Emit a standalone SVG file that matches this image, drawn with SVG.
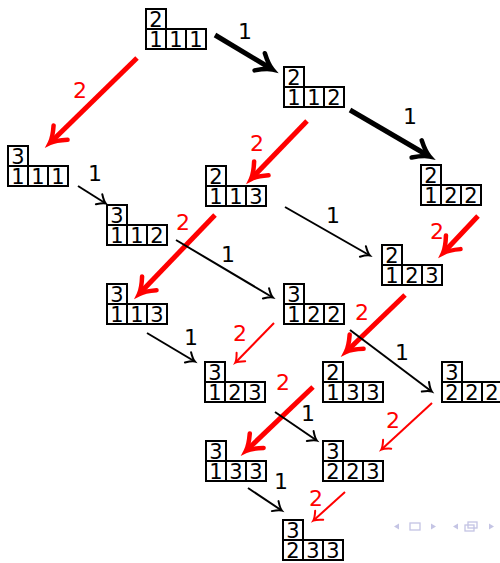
<svg xmlns="http://www.w3.org/2000/svg" width="500" height="563" viewBox="0 0 500 563">
<style>
.c{fill:#fff;stroke:#000;stroke-width:2}
.d{font-family:"DejaVu Sans",sans-serif;font-size:21px;text-anchor:middle;fill:#000}
.l{font-family:"DejaVu Sans",sans-serif;font-size:22px;text-anchor:middle}
.lb{fill:#000}
.lr{fill:#f00}
.tb{stroke:#000;stroke-width:5;fill:none}
.tr{stroke:#f00;stroke-width:5;fill:none}
.nb{stroke:#000;stroke-width:2;fill:none}
.nr{stroke:#f00;stroke-width:2;fill:none}
.nav{fill:#c4c4e4;stroke:none}
.navs{fill:none;stroke:#c4c4e4;stroke-width:1.3}
</style>
<defs>
<marker id="hb" markerUnits="userSpaceOnUse" markerWidth="30" markerHeight="30" refX="0" refY="0" viewBox="-20 -15 30 30" orient="auto" overflow="visible">
<path d="M-12,-10 Q-3,-2 3,0 Q-3,2 -12,10" fill="none" stroke="#000" stroke-width="4.5" stroke-linecap="round"/>
</marker>
<marker id="hr" markerUnits="userSpaceOnUse" markerWidth="30" markerHeight="30" refX="0" refY="0" viewBox="-20 -15 30 30" orient="auto" overflow="visible">
<path d="M-12,-10 Q-3,-2 3,0 Q-3,2 -12,10" fill="none" stroke="#f00" stroke-width="4.5" stroke-linecap="round"/>
</marker>
<marker id="sb" markerUnits="userSpaceOnUse" markerWidth="20" markerHeight="20" refX="0" refY="0" viewBox="-10 -10 20 20" orient="auto" overflow="visible">
<path d="M-7,-6 Q-2,-1 1,0 Q-2,1 -7,6" fill="none" stroke="#000" stroke-width="2" stroke-linecap="round"/>
</marker>
<marker id="sr" markerUnits="userSpaceOnUse" markerWidth="20" markerHeight="20" refX="0" refY="0" viewBox="-10 -10 20 20" orient="auto" overflow="visible">
<path d="M-7,-6 Q-2,-1 1,0 Q-2,1 -7,6" fill="none" stroke="#f00" stroke-width="2" stroke-linecap="round"/>
</marker>
</defs>

<g id="connectors">
<line class="tb" x1="215" y1="35" x2="270" y2="68" marker-end="url(#hb)"/>
<line class="tb" x1="350" y1="110" x2="427" y2="155" marker-end="url(#hb)"/>
<line class="tr" x1="137" y1="58" x2="52" y2="141" marker-end="url(#hr)"/>
<line class="tr" x1="307" y1="121" x2="253" y2="177" marker-end="url(#hr)"/>
<line class="tr" x1="215" y1="215" x2="141" y2="292" marker-end="url(#hr)"/>
<line class="tr" x1="478" y1="216" x2="445" y2="251" marker-end="url(#hr)"/>
<line class="tr" x1="405" y1="295" x2="348" y2="350" marker-end="url(#hr)"/>
<line class="tr" x1="313" y1="387" x2="248" y2="449" marker-end="url(#hr)"/>
<line class="nb" x1="78" y1="186" x2="105" y2="203" marker-end="url(#sb)"/>
<line class="nb" x1="285" y1="207" x2="369" y2="255" marker-end="url(#sb)"/>
<line class="nb" x1="176" y1="240" x2="272" y2="297" marker-end="url(#sb)"/>
<line class="nb" x1="147" y1="333" x2="194" y2="361" marker-end="url(#sb)"/>
<line class="nb" x1="350" y1="330" x2="431" y2="391" marker-end="url(#sb)"/>
<line class="nb" x1="275" y1="412" x2="316" y2="440" marker-end="url(#sb)"/>
<line class="nb" x1="248" y1="488" x2="281" y2="510" marker-end="url(#sb)"/>
<line class="nr" x1="274" y1="323" x2="236" y2="362" marker-end="url(#sr)"/>
<line class="nr" x1="432" y1="403" x2="382" y2="449" marker-end="url(#sr)"/>
<line class="nr" x1="345" y1="492" x2="314" y2="520" marker-end="url(#sr)"/>
<text class="l lb" x="245" y="39">1</text>
<text class="l lb" x="410" y="124">1</text>
<text class="l lb" x="95" y="181">1</text>
<text class="l lb" x="333" y="223">1</text>
<text class="l lb" x="228" y="262">1</text>
<text class="l lb" x="191" y="345">1</text>
<text class="l lb" x="402" y="360">1</text>
<text class="l lb" x="308" y="421">1</text>
<text class="l lb" x="281" y="489">1</text>
<text class="l lr" x="80" y="98">2</text>
<text class="l lr" x="257" y="151">2</text>
<text class="l lr" x="183" y="230">2</text>
<text class="l lr" x="437" y="239">2</text>
<text class="l lr" x="362" y="320">2</text>
<text class="l lr" x="283" y="390">2</text>
<text class="l lr" x="240" y="341">2</text>
<text class="l lr" x="393" y="428">2</text>
<text class="l lr" x="316" y="506">2</text>
</g>

<g id="n1" transform="translate(146,9)"><rect class="c" x="0" y="0" width="20" height="20"/><rect class="c" x="0" y="20" width="20" height="20"/><rect class="c" x="20" y="20" width="20" height="20"/><rect class="c" x="40" y="20" width="20" height="20"/><text class="d" x="10" y="18">2</text><text class="d" x="10" y="38">1</text><text class="d" x="30" y="38">1</text><text class="d" x="50" y="38">1</text></g>
<g id="n2" transform="translate(284,67)"><rect class="c" x="0" y="0" width="20" height="20"/><rect class="c" x="0" y="20" width="20" height="20"/><rect class="c" x="20" y="20" width="20" height="20"/><rect class="c" x="40" y="20" width="20" height="20"/><text class="d" x="10" y="18">2</text><text class="d" x="10" y="38">1</text><text class="d" x="30" y="38">1</text><text class="d" x="50" y="38">2</text></g>
<g id="n3" transform="translate(8,146)"><rect class="c" x="0" y="0" width="20" height="20"/><rect class="c" x="0" y="20" width="20" height="20"/><rect class="c" x="20" y="20" width="20" height="20"/><rect class="c" x="40" y="20" width="20" height="20"/><text class="d" x="10" y="18">3</text><text class="d" x="10" y="38">1</text><text class="d" x="30" y="38">1</text><text class="d" x="50" y="38">1</text></g>
<g id="n4" transform="translate(107,205)"><rect class="c" x="0" y="0" width="20" height="20"/><rect class="c" x="0" y="20" width="20" height="20"/><rect class="c" x="20" y="20" width="20" height="20"/><rect class="c" x="40" y="20" width="20" height="20"/><text class="d" x="10" y="18">3</text><text class="d" x="10" y="38">1</text><text class="d" x="30" y="38">1</text><text class="d" x="50" y="38">2</text></g>
<g id="n5" transform="translate(206,166)"><rect class="c" x="0" y="0" width="20" height="20"/><rect class="c" x="0" y="20" width="20" height="20"/><rect class="c" x="20" y="20" width="20" height="20"/><rect class="c" x="40" y="20" width="20" height="20"/><text class="d" x="10" y="18">2</text><text class="d" x="10" y="38">1</text><text class="d" x="30" y="38">1</text><text class="d" x="50" y="38">3</text></g>
<g id="n6" transform="translate(421,165)"><rect class="c" x="0" y="0" width="20" height="20"/><rect class="c" x="0" y="20" width="20" height="20"/><rect class="c" x="20" y="20" width="20" height="20"/><rect class="c" x="40" y="20" width="20" height="20"/><text class="d" x="10" y="18">2</text><text class="d" x="10" y="38">1</text><text class="d" x="30" y="38">2</text><text class="d" x="50" y="38">2</text></g>
<g id="n7" transform="translate(382,245)"><rect class="c" x="0" y="0" width="20" height="20"/><rect class="c" x="0" y="20" width="20" height="20"/><rect class="c" x="20" y="20" width="20" height="20"/><rect class="c" x="40" y="20" width="20" height="20"/><text class="d" x="10" y="18">2</text><text class="d" x="10" y="38">1</text><text class="d" x="30" y="38">2</text><text class="d" x="50" y="38">3</text></g>
<g id="n8" transform="translate(107,284)"><rect class="c" x="0" y="0" width="20" height="20"/><rect class="c" x="0" y="20" width="20" height="20"/><rect class="c" x="20" y="20" width="20" height="20"/><rect class="c" x="40" y="20" width="20" height="20"/><text class="d" x="10" y="18">3</text><text class="d" x="10" y="38">1</text><text class="d" x="30" y="38">1</text><text class="d" x="50" y="38">3</text></g>
<g id="n9" transform="translate(284,284)"><rect class="c" x="0" y="0" width="20" height="20"/><rect class="c" x="0" y="20" width="20" height="20"/><rect class="c" x="20" y="20" width="20" height="20"/><rect class="c" x="40" y="20" width="20" height="20"/><text class="d" x="10" y="18">3</text><text class="d" x="10" y="38">1</text><text class="d" x="30" y="38">2</text><text class="d" x="50" y="38">2</text></g>
<g id="n10" transform="translate(205,362)"><rect class="c" x="0" y="0" width="20" height="20"/><rect class="c" x="0" y="20" width="20" height="20"/><rect class="c" x="20" y="20" width="20" height="20"/><rect class="c" x="40" y="20" width="20" height="20"/><text class="d" x="10" y="18">3</text><text class="d" x="10" y="38">1</text><text class="d" x="30" y="38">2</text><text class="d" x="50" y="38">3</text></g>
<g id="n11" transform="translate(323,362)"><rect class="c" x="0" y="0" width="20" height="20"/><rect class="c" x="0" y="20" width="20" height="20"/><rect class="c" x="20" y="20" width="20" height="20"/><rect class="c" x="40" y="20" width="20" height="20"/><text class="d" x="10" y="18">2</text><text class="d" x="10" y="38">1</text><text class="d" x="30" y="38">3</text><text class="d" x="50" y="38">3</text></g>
<g id="n12" transform="translate(442,362)"><rect class="c" x="0" y="0" width="20" height="20"/><rect class="c" x="0" y="20" width="20" height="20"/><rect class="c" x="20" y="20" width="20" height="20"/><rect class="c" x="40" y="20" width="20" height="20"/><text class="d" x="10" y="18">3</text><text class="d" x="10" y="38">2</text><text class="d" x="30" y="38">2</text><text class="d" x="50" y="38">2</text></g>
<g id="n13" transform="translate(206,441)"><rect class="c" x="0" y="0" width="20" height="20"/><rect class="c" x="0" y="20" width="20" height="20"/><rect class="c" x="20" y="20" width="20" height="20"/><rect class="c" x="40" y="20" width="20" height="20"/><text class="d" x="10" y="18">3</text><text class="d" x="10" y="38">1</text><text class="d" x="30" y="38">3</text><text class="d" x="50" y="38">3</text></g>
<g id="n14" transform="translate(323,441)"><rect class="c" x="0" y="0" width="20" height="20"/><rect class="c" x="0" y="20" width="20" height="20"/><rect class="c" x="20" y="20" width="20" height="20"/><rect class="c" x="40" y="20" width="20" height="20"/><text class="d" x="10" y="18">3</text><text class="d" x="10" y="38">2</text><text class="d" x="30" y="38">2</text><text class="d" x="50" y="38">3</text></g>
<g id="n15" transform="translate(283,520)"><rect class="c" x="0" y="0" width="20" height="20"/><rect class="c" x="0" y="20" width="20" height="20"/><rect class="c" x="20" y="20" width="20" height="20"/><rect class="c" x="40" y="20" width="20" height="20"/><text class="d" x="10" y="18">3</text><text class="d" x="10" y="38">2</text><text class="d" x="30" y="38">3</text><text class="d" x="50" y="38">3</text></g>

<g id="nav">
<polygon class="nav" points="394,526.5 399,523.5 399,529.5"/>
<rect class="navs" x="410" y="523" width="10" height="7"/>
<polygon class="nav" points="436,526.5 431,523.5 431,529.5"/>
<polygon class="nav" points="453,526.5 458,523.5 458,529.5"/>
<rect class="navs" x="468" y="522" width="9" height="6"/>
<rect class="navs" x="465" y="525" width="9" height="6" fill="#fff"/>
<polygon class="nav" points="494,526.5 489,523.5 489,529.5"/>
</g>
</svg>
